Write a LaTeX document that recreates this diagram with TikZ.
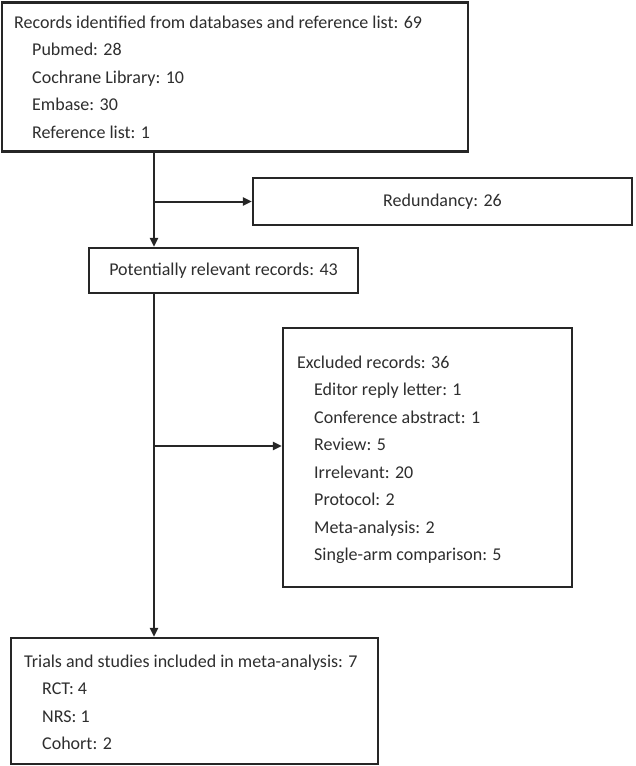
\documentclass[tikz,border=0pt]{standalone}
\usepackage{fontspec}
\setmainfont{Carlito}
\usetikzlibrary{arrows.meta}
\definecolor{ink}{HTML}{262626}
\definecolor{txt}{HTML}{2E2E2E}
\begin{document}
\begin{tikzpicture}[x=1pt,y=-1pt,
  box/.style={draw=ink,line width=2.2pt,rectangle,inner sep=0pt,fill=white},
  lbl/.style={anchor=base west,inner sep=0pt,text=txt,font=\fontsize{18}{21}\selectfont},
  ctr/.style={text=txt,font=\fontsize{18}{21}\selectfont},
  arr/.style={draw=ink,line width=2pt,-{Triangle[length=9pt,width=8pt]}}]
\useasboundingbox (0,0) rectangle (635,766);
% boxes
\node[box,minimum width=466pt,minimum height=149pt] (top) at (235,77) {};
\node[box,minimum width=379pt,minimum height=47pt,ctr] (red) at (442.5,201.5) {Redundancy: 26};
\node[box,minimum width=269pt,minimum height=45pt,ctr] (pot) at (223.5,270.5) {Potentially relevant records: 43};
\node[box,minimum width=289pt,minimum height=259pt] (exc) at (427.5,457.5) {};
\node[box,minimum width=367pt,minimum height=126pt] (fin) at (194.5,701) {};
% texts of top box
\node[lbl] (t0) at (14,28) {Records identified from databases and reference list: 69};
\node[lbl] (t1) at (32,55.5) {Pubmed: 28};
\node[lbl] (t2) at (32,83) {Cochrane Library: 10};
\node[lbl] (t3) at (32,110.5) {Embase: 30};
\node[lbl] (t4) at (32,138) {Reference list: 1};
% texts of excluded box
\node[lbl] (e0) at (297,368) {Excluded records: 36};
\node[lbl] (e1) at (314,395.5) {Editor reply letter: 1};
\node[lbl] (e2) at (314,423) {Conference abstract: 1};
\node[lbl] (e3) at (314,450.5) {Review: 5};
\node[lbl] (e4) at (314,478) {Irrelevant: 20};
\node[lbl] (e5) at (314,505.5) {Protocol: 2};
\node[lbl] (e6) at (314,533) {Meta-analysis: 2};
\node[lbl] (e7) at (314,560.5) {Single-arm comparison: 5};
% texts of final box
\node[lbl] (f0) at (24,667) {Trials and studies included in meta-analysis: 7};
\node[lbl] (f1) at (42,694.5) {RCT: 4};
\node[lbl] (f2) at (42,722) {NRS: 1};
\node[lbl] (f3) at (42,749.5) {Cohort: 2};
% connectors
\coordinate (spine) at (154,0);
\coordinate (b1) at (154,201.5);
\coordinate (b2) at (154,446);
\draw[arr] (spine |- top.south) -- (spine |- pot.north);
\draw[arr] (b1) -- (b1 -| red.west);
\draw[arr] (spine |- pot.south) -- (spine |- fin.north);
\draw[arr] (b2) -- (b2 -| exc.west);
\end{tikzpicture}
\end{document}
